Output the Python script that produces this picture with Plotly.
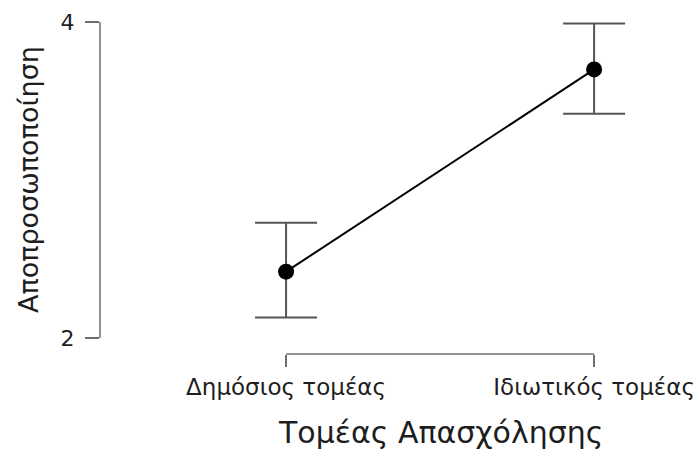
import plotly.graph_objects as go

# Descriptives: mean depersonalisation score by employment sector, with 95% CI
sectors = ["Δημόσιος τομέας", "Ιδιωτικός τομέας"]
means = [2.42, 3.70]
ci_lower = [2.13, 3.42]
ci_upper = [2.73, 3.99]

err_plus = [u - m for u, m in zip(ci_upper, means)]
err_minus = [m - l for m, l in zip(means, ci_lower)]

y_ticks = [2, 4]
x_title = "Τομέας Απασχόλησης"
y_title = "Αποπροσωποποίηση"

font_family = "DejaVu Sans, Liberation Sans, sans-serif"
text_color = "#1e1e1e"
axis_grey = "#6e6e6e"

fig = go.Figure()
fig.add_trace(go.Scatter(
    x=sectors,
    y=means,
    mode="lines+markers",
    line=dict(color="black", width=2),
    marker=dict(color="black", size=16),
    error_y=dict(
        type="data",
        symmetric=False,
        array=err_plus,
        arrayminus=err_minus,
        color="#555555",
        thickness=2,
        width=31,
    ),
    showlegend=False,
))

# Axis lines spanning only the tick range (bracket style)
fig.add_shape(type="line", xref="paper", yref="y", x0=0, x1=0,
              y0=y_ticks[0], y1=y_ticks[-1],
              line=dict(color=axis_grey, width=1.5))
fig.add_shape(type="line", xref="x", yref="paper", x0=0, x1=len(sectors) - 1,
              y0=0, y1=0, line=dict(color=axis_grey, width=1.5))

fig.add_annotation(text=y_title, xref="paper", yref="y", x=0, y=3,
                   xanchor="center", yanchor="middle", xshift=-72,
                   textangle=-90, showarrow=False,
                   font=dict(family=font_family, size=27, color=text_color))
fig.add_annotation(text=x_title, xref="x", yref="paper", x=0.5, y=0,
                   xanchor="center", yanchor="middle", yshift=-78,
                   showarrow=False,
                   font=dict(family=font_family, size=30, color=text_color))

fig.update_xaxes(
    type="category",
    range=[-0.604, 1.149],
    automargin=False,
    showline=False, showgrid=False, zeroline=False,
    ticks="outside", ticklen=12, tickwidth=1.5, tickcolor=axis_grey,
    tickfont=dict(family=font_family, size=23, color=text_color),
)
fig.update_yaxes(
    range=[1.899, 4.0],
    tickvals=y_ticks,
    automargin=False,
    showline=False, showgrid=False, zeroline=False,
    ticks="outside", ticklen=14, tickwidth=1.5, tickcolor=axis_grey,
    ticklabelstandoff=6,
    tickfont=dict(family=font_family, size=22, color=text_color),
)

fig.update_layout(
    width=695, height=449,
    margin=dict(l=100, r=55, t=22, b=95, autoexpand=False),
    plot_bgcolor="white", paper_bgcolor="white",
)

fig.write_html("out.html")
